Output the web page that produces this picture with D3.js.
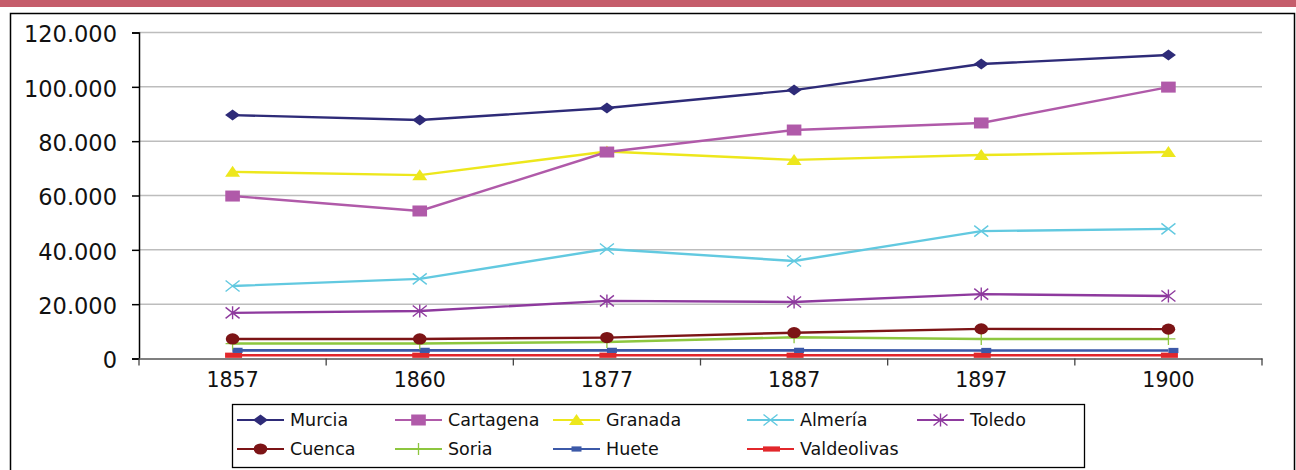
<!DOCTYPE html>
<html><head><meta charset="utf-8">
<script src="https://cdn.jsdelivr.net/npm/d3@7"></script>
<style>body{margin:0;background:#fff;}svg{display:block;}</style>
</head><body>
<svg id="c" width="1296" height="470"></svg>
<script>
const years = ["1857","1860","1877","1887","1897","1900"];
const yTicks = [0,20000,40000,60000,80000,100000,120000];
const murcia      = [89600, 87800, 92200, 98800, 108400, 111700];
const cartagena   = [59800, 54300, 76000, 84100, 86700, 99900];
const granada     = [68700, 67500, 76200, 73100, 74900, 76000];
const almeria     = [26700, 29300, 40300, 35900, 46900, 47700];
const toledo      = [16800, 17500, 21200, 20800, 23700, 23000];
const cuenca      = [7200, 7200, 7700, 9500, 10900, 10800];
const soria       = [5500, 5500, 6100, 7800, 7200, 7200];
const huete       = [3000, 3000, 3000, 3000, 2950, 2950];
const valdeolivas = [1200, 1200, 1200, 1200, 1200, 1200];

const series = [
  {name:"Murcia", values:murcia, color:"#2e2b78", marker:"diamond"},
  {name:"Cartagena", values:cartagena, color:"#b05aa9", marker:"square"},
  {name:"Granada", values:granada, color:"#ede71c", marker:"triangle"},
  {name:"Almería", values:almeria, color:"#62c9e0", marker:"x"},
  {name:"Toledo", values:toledo, color:"#8e3a9e", marker:"star"},
  {name:"Cuenca", values:cuenca, color:"#7c1416", marker:"circle"},
  {name:"Soria", values:soria, color:"#8dc63f", marker:"plus"},
  {name:"Huete", values:huete, color:"#3c59a8", marker:"smallrect"},
  {name:"Valdeolivas", values:valdeolivas, color:"#e2272b", marker:"redrect"}
];

const svg = d3.select("#c");
const font = "'DejaVu Sans', sans-serif";

// top band
svg.append("rect").attr("x",0).attr("y",0).attr("width",1296).attr("height",7).attr("fill","#c55d6b");
// outer frame
svg.append("rect").attr("x",10.5).attr("y",13.5).attr("width",1284).attr("height",470).attr("fill","none").attr("stroke","#000").attr("stroke-width",1.5);

const pLeft = 139, pRight = 1262, pTop = 32.5, pBottom = 358.5;
const x = d3.scaleBand().domain(years).range([pLeft, pRight]);
const y = d3.scaleLinear().domain([0,120000]).range([pBottom, pTop]);
const cx = d => x(d) + x.bandwidth()/2;

// gridlines
svg.append("g").selectAll("line").data(yTicks.filter(t=>t>0)).join("line")
  .attr("x1",pLeft).attr("x2",pRight).attr("y1",d=>y(d)).attr("y2",d=>y(d))
  .attr("stroke","#bdbdbd").attr("stroke-width",1.5);

// y axis
const yAxis = svg.append("g").attr("transform",`translate(${pLeft},0)`)
  .call(d3.axisLeft(y).tickValues(yTicks).tickSize(7).tickPadding(15)
    .tickFormat(d => d3.format(",")(d).replace(/,/g,".")));
yAxis.select(".domain").attr("stroke","#000").attr("stroke-width",1.5);
yAxis.selectAll(".tick line").attr("stroke","#000").attr("stroke-width",1.5);
yAxis.selectAll("text").attr("font-family",font).attr("font-size",22.5).attr("fill","#111").attr("dy","0.42em");

// x axis
const xAxis = svg.append("g").attr("transform",`translate(0,${pBottom})`)
  .call(d3.axisBottom(x).tickSize(0).tickPadding(14));
xAxis.select(".domain").attr("stroke","#7f7f7f").attr("stroke-width",2);
xAxis.selectAll("text").attr("font-family",font).attr("font-size",20.5).attr("fill","#111");
// x tick marks between categories
const bounds = years.map(d=>x(d)).concat([pRight]);
svg.append("g").selectAll("line").data(bounds).join("line")
  .attr("x1",d=>d).attr("x2",d=>d).attr("y1",pBottom).attr("y2",pBottom+7)
  .attr("stroke","#444").attr("stroke-width",1.3);

function drawMarker(g, type, color, px, py) {
  switch(type){
    case "diamond":
      g.append("path").attr("d",`M${px-7.5},${py}L${px},${py-5.5}L${px+7.5},${py}L${px},${py+5.5}Z`).attr("fill",color); break;
    case "square":
      g.append("rect").attr("x",px-7.3).attr("y",py-5.5).attr("width",14.6).attr("height",11).attr("fill",color); break;
    case "triangle":
      g.append("path").attr("d",`M${px-7.5},${py+5}L${px},${py-6}L${px+7.5},${py+5}Z`).attr("fill",color); break;
    case "x":
      g.append("path").attr("d",`M${px-7},${py-5.5}L${px+7},${py+5.5}M${px-7},${py+5.5}L${px+7},${py-5.5}`).attr("stroke",color).attr("stroke-width",1.4).attr("fill","none"); break;
    case "star":
      g.append("path").attr("d",`M${px-7},${py-5.5}L${px+7},${py+5.5}M${px-7},${py+5.5}L${px+7},${py-5.5}M${px},${py-6.5}L${px},${py+6.5}`).attr("stroke",color).attr("stroke-width",1.4).attr("fill","none"); break;
    case "circle":
      g.append("ellipse").attr("cx",px).attr("cy",py).attr("rx",6.8).attr("ry",5.6).attr("fill",color); break;
    case "plus":
      g.append("path").attr("d",`M${px-7},${py}L${px+7},${py}M${px},${py-6}L${px},${py+6}`).attr("stroke",color).attr("stroke-width",1.3).attr("fill","none"); break;
    case "smallrect":
      g.append("rect").attr("x",px).attr("y",py-2.6).attr("width",10).attr("height",5.2).attr("fill",color); break;
    case "redrect":
      g.append("rect").attr("x",px-7.5).attr("y",py-2.6).attr("width",17).attr("height",5.2).attr("fill",color); break;
  }
}

const line = d3.line().x((d,i)=>cx(years[i])).y(d=>y(d));
// draw in reverse so Murcia on top
series.slice().reverse().forEach(s=>{
  const g = svg.append("g");
  g.append("path").datum(s.values).attr("d",line).attr("fill","none")
    .attr("stroke",s.color).attr("stroke-width",s.marker==="redrect"||s.marker==="smallrect"?2.6:2.4);
  s.values.forEach((v,i)=>drawMarker(g, s.marker, s.color, cx(years[i]), y(v)));
});

// legend
svg.append("rect").attr("x",232.5).attr("y",404.5).attr("width",852).attr("height",63)
  .attr("fill","#fff").attr("stroke","#000").attr("stroke-width",1.3);
const colX = [237, 395, 553, 747, 917];
const rowY = [420, 449];
series.forEach((s,i)=>{
  const r = Math.floor(i/5), c = i%5;
  const lx = colX[c], ly = rowY[r];
  const g = svg.append("g");
  g.append("line").attr("x1",lx).attr("x2",lx+47).attr("y1",ly).attr("y2",ly).attr("stroke",s.color).attr("stroke-width",2.2);
  drawMarker(g, s.marker, s.color, lx+ (s.marker==="smallrect"?18.5:23.5), ly);
  g.append("text").attr("x",lx+53).attr("y",ly).attr("dy","0.36em")
    .attr("font-family",font).attr("font-size",17.5).attr("fill","#111").text(s.name);
});
</script>
</body></html>
